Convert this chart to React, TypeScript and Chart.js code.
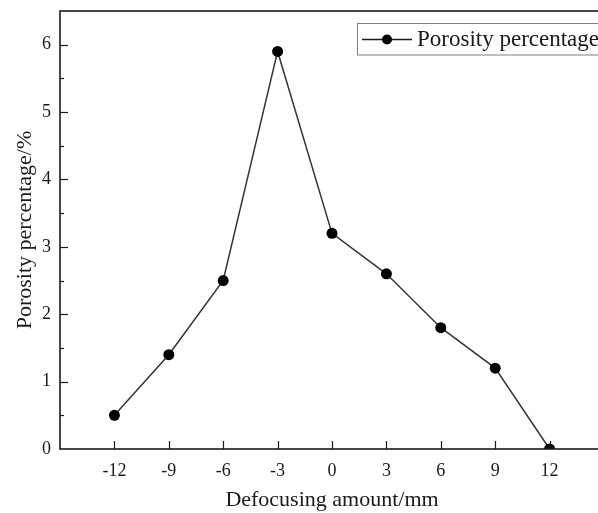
import React, { useEffect, useRef } from 'react';
import { Chart, registerables } from 'chart.js';

Chart.register(...registerables);

const defocusing = [-12, -9, -6, -3, 0, 3, 6, 9, 12];
const porosity = [0.5, 1.4, 2.5, 5.9, 3.2, 2.6, 1.8, 1.2, 0];
const seriesLabel = 'Porosity percentage';
const xTitle = 'Defocusing amount/mm';
const yTitle = 'Porosity percentage/%';
const xTickLabels = [-12, -9, -6, -3, 0, 3, 6, 9, 12];
const yTickLabels = [0, 1, 2, 3, 4, 5, 6];

const FONT = '"Liberation Serif", "Times New Roman", serif';
const INK = '#1a1a1a';

const framePlugin = {
  id: 'frame',
  afterDatasetsDraw(chart: any) {
    const { ctx, chartArea } = chart;
    const { left, top, right, bottom } = chartArea;
    ctx.save();
    ctx.strokeStyle = INK;
    ctx.lineWidth = 1.2;
    const ys = chart.scales.y;
    ys.ticks.forEach((t: any) => {
      if (t.value <= ys.min || t.value >= ys.max) return;
      const py = Math.round(ys.getPixelForValue(t.value)) + 0.5;
      const len = yTickLabels.includes(t.value) ? 8 : 4;
      ctx.beginPath();
      ctx.moveTo(left, py);
      ctx.lineTo(left + len, py);
      ctx.stroke();
    });
    const xs = chart.scales.x;
    xs.ticks.forEach((t: any) => {
      if (!xTickLabels.includes(t.value)) return;
      const px = Math.round(xs.getPixelForValue(t.value)) + 0.5;
      ctx.beginPath();
      ctx.moveTo(px, bottom);
      ctx.lineTo(px, bottom - 8);
      ctx.stroke();
    });
    ctx.lineWidth = 1.6;
    ctx.strokeRect(left, top, right - left, bottom - top);
    ctx.restore();
  },
};

const legendPlugin = {
  id: 'boxLegend',
  afterDraw(chart: any) {
    const { ctx } = chart;
    const ds = chart.data.datasets[0];
    ctx.save();
    ctx.strokeStyle = '#808080';
    ctx.lineWidth = 1;
    ctx.strokeRect(357.5, 23.5, 320, 31.5);
    ctx.strokeStyle = INK;
    ctx.lineWidth = 1.5;
    ctx.beginPath();
    ctx.moveTo(362, 39.5);
    ctx.lineTo(412, 39.5);
    ctx.stroke();
    ctx.fillStyle = '#000';
    ctx.beginPath();
    ctx.arc(387, 39.5, 5, 0, Math.PI * 2);
    ctx.fill();
    ctx.fillStyle = INK;
    ctx.font = `23px ${FONT}`;
    ctx.textBaseline = 'middle';
    ctx.textAlign = 'left';
    ctx.fillText(ds.label, 417, 40);
    ctx.restore();
  },
};

export default function App() {
  const ref = useRef<HTMLCanvasElement | null>(null);

  useEffect(() => {
    if (!ref.current) return;
    const chart = new Chart(ref.current, {
      type: 'line',
      data: {
        datasets: [
          {
            label: seriesLabel,
            data: defocusing.map((x, i) => ({ x, y: porosity[i] })),
            borderColor: '#333',
            borderWidth: 1.5,
            pointRadius: 5.5,
            pointBackgroundColor: '#000',
            pointBorderColor: '#000',
            pointBorderWidth: 0,
            tension: 0,
          },
        ],
      },
      options: {
        responsive: false,
        maintainAspectRatio: false,
        animation: false,
        layout: { padding: { top: 11, right: 26, left: 0, bottom: 0 } },
        plugins: {
          legend: { display: false },
          tooltip: { enabled: false },
        },
        scales: {
          x: {
            type: 'linear',
            min: -15,
            max: 15,
            grid: { display: false, drawTicks: false },
            border: { display: false },
            ticks: {
              stepSize: 3,
              padding: 11,
              color: INK,
              font: { family: FONT, size: 18 },
              maxRotation: 0,
              callback: (v: any) => (xTickLabels.includes(v) ? String(v) : ''),
            },
            title: {
              display: true,
              text: xTitle,
              color: INK,
              font: { family: FONT, size: 22 },
              padding: { top: 0, bottom: 0 },
            },
            afterFit: (s: any) => {
              s.height = 64;
              s.paddingLeft = 0;
              s.paddingRight = 0;
              s.paddingTop = 0;
              s.paddingBottom = 0;
            },
          },
          y: {
            type: 'linear',
            min: 0,
            max: 6.5,
            grid: { display: false, drawTicks: false },
            border: { display: false },
            ticks: {
              stepSize: 0.5,
              padding: 9,
              color: INK,
              font: { family: FONT, size: 18 },
              callback: (v: any) => (yTickLabels.includes(v) ? String(v) : ''),
            },
            title: {
              display: true,
              text: yTitle,
              color: INK,
              font: { family: FONT, size: 22 },
              padding: { top: 12, bottom: 0 },
            },
            afterFit: (s: any) => {
              s.width = 60;
              s.paddingLeft = 0;
              s.paddingRight = 0;
              s.paddingTop = 0;
              s.paddingBottom = 0;
            },
          },
        },
      } as any,
      plugins: [framePlugin, legendPlugin],
    });
    return () => chart.destroy();
  }, []);

  return (
    <div
      style={{
        position: 'fixed',
        left: 0,
        top: 0,
        width: 598,
        height: 513,
        overflow: 'hidden',
        background: '#fff',
      }}
    >
      <canvas ref={ref} width={630} height={513} style={{ display: 'block' }} />
    </div>
  );
}
